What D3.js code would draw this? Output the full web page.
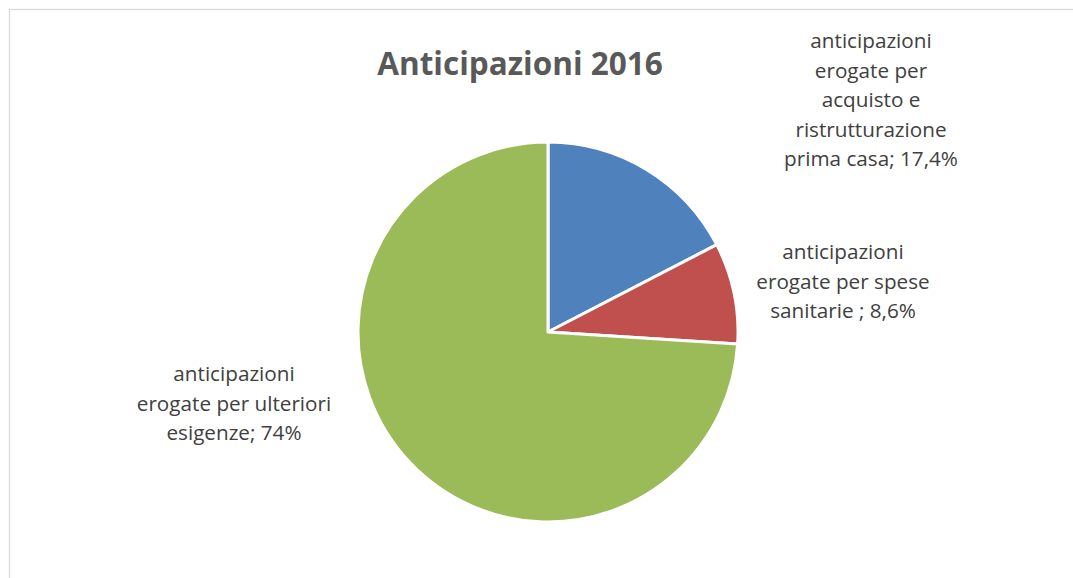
<!DOCTYPE html>
<html>
<head>
<meta charset="utf-8">
<script src="https://cdn.jsdelivr.net/npm/d3@7"></script>
<style>
  html, body { margin: 0; padding: 0; background: #fff; }
  svg { display: block; }
</style>
</head>
<body>
<svg id="chart" width="1073" height="578"></svg>
<script>
// Shares of advances paid out in 2016, by purpose
const categories = [
  "anticipazioni erogate per acquisto e ristrutturazione prima casa",
  "anticipazioni erogate per spese sanitarie ",
  "anticipazioni erogate per ulteriori esigenze"
];
const values = [17.4, 8.6, 74];
const valueLabels = ["17,4%", "8,6%", "74%"];
const labelLines = [
  ["anticipazioni", "erogate per", "acquisto e", "ristrutturazione", "prima casa; 17,4%"],
  ["anticipazioni", "erogate per spese", "sanitarie ; 8,6%"],
  ["anticipazioni", "erogate per ulteriori", "esigenze; 74%"]
];
const colors = ["#4F81BD", "#C0504D", "#9BBB59"];
const title = "Anticipazioni 2016";

const svg = d3.select("#chart");
const W = 1073, H = 578;

// chart area frame (runs off the right and bottom edges)
svg.append("rect")
  .attr("x", 9.5).attr("y", 9.5)
  .attr("width", W + 20).attr("height", H + 20)
  .attr("fill", "#fff")
  .attr("stroke", "#D9D9D9")
  .attr("stroke-width", 1.3);

svg.append("text")
  .attr("x", 520).attr("y", 75)
  .attr("text-anchor", "middle")
  .attr("font-family", "'Open Sans', sans-serif")
  .attr("font-weight", "bold")
  .attr("font-size", 31.5)
  .attr("fill", "#595959")
  .text(title);

const cx = 548, cy = 332, R = 190;

const pie = d3.pie().sort(null).value(d => d)(values);
const arc = d3.arc().innerRadius(0).outerRadius(R);

svg.append("g")
  .attr("transform", `translate(${cx},${cy})`)
  .selectAll("path")
  .data(pie)
  .join("path")
  .attr("d", arc)
  .attr("fill", (d, i) => colors[i])
  .attr("stroke", "#fff")
  .attr("stroke-width", 3)
  .attr("stroke-linejoin", "round");

// data labels: category name ; value, centred blocks
const labelPos = [
  { x: 871, y: 48 },
  { x: 843, y: 259 },
  { x: 234, y: 381 }
];
const lineH = 29.6;

labelLines.forEach((lines, i) => {
  const t = svg.append("text")
    .attr("text-anchor", "middle")
    .attr("font-family", "'Open Sans', sans-serif")
    .attr("font-size", 20.7)
    .attr("fill", "#404040");
  lines.forEach((ln, j) => {
    t.append("tspan")
      .attr("x", labelPos[i].x)
      .attr("y", labelPos[i].y + j * lineH)
      .text(ln);
  });
});
</script>
</body>
</html>
